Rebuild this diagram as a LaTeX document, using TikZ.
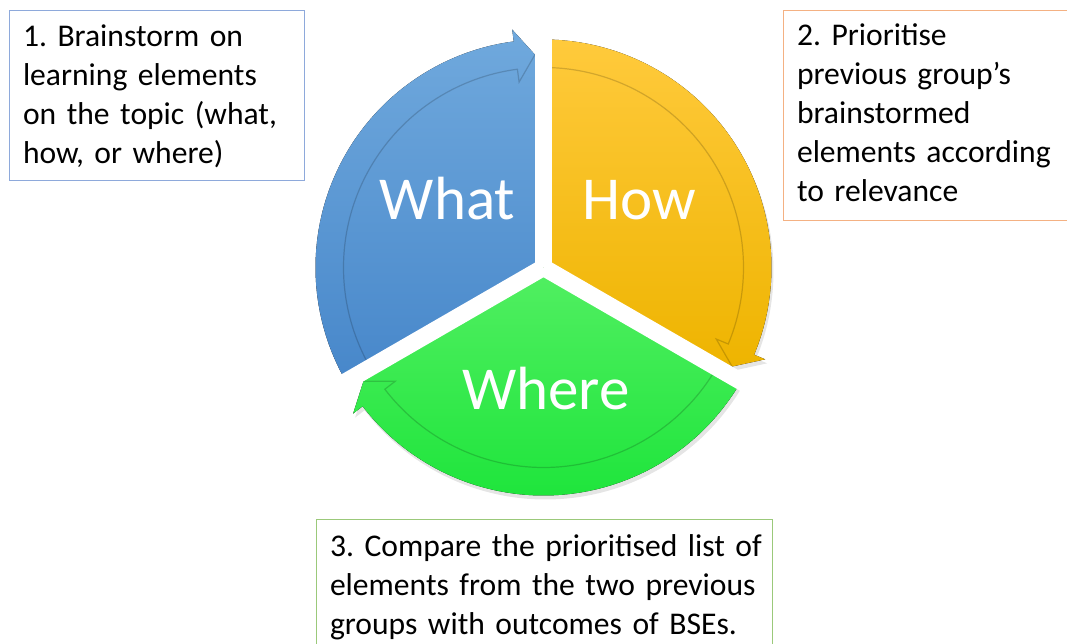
\documentclass[tikz,border=0pt]{standalone}
\usepackage{fontspec}
\setmainfont{Carlito}
\definecolor{whatTop}{HTML}{70A9DD}
\definecolor{whatBot}{HTML}{4787CA}
\definecolor{howTop}{HTML}{FFCA3C}
\definecolor{howBot}{HTML}{EEB400}
\definecolor{whereTop}{HTML}{52EF62}
\definecolor{whereBot}{HTML}{1FE53C}
\definecolor{noteblue}{HTML}{8EA9DB}
\definecolor{noteorange}{HTML}{F4B183}
\definecolor{notegreen}{HTML}{9BC97A}
\tikzset{
  notebox/.style={draw, line width=1pt, fill=white, align=left, anchor=north west, inner xsep=14pt, inner ysep=0pt, outer sep=0pt, font=\fontsize{31.6}{39}\selectfont\frenchspacing},
  seglabel/.style={text=white, anchor=base, font=\fontsize{61}{70}\selectfont},
  gapline/.style={white, line width=17pt},
  bandedge/.style={black, opacity=.17, line width=1.2pt},
  segshadow/.style={black, opacity=.1}
}

\begin{document}
\begin{tikzpicture}[x=1pt,y=1pt]
  \clip (0,0) rectangle (1067,644);
  \fill[white] (0,0) rectangle (1067,644);
  \begin{scope}[shift={(543.5,376.5)}]
    % soft shadow under the cycle
    \foreach \s/\e in {210/90,90/-30,330/210}
      \fill[segshadow, shift={(2,-4)}] (0,0) -- (\s:228) arc[start angle=\s, end angle=\e+7.5, radius=228] -- ({\e+7.5}:240) -- ({\e+2.3}:213) -- (\e:200) -- cycle;
    % the three segments with their arrows
    \foreach \s/\e/\col in {210/90/what,90/-30/how,330/210/where} {
      \fill[top color=\col Top, bottom color=\col Bot] (0,0) -- (\s:228) arc[start angle=\s, end angle=\e+7.5, radius=228] -- ({\e+7.5}:240) -- ({\e+2.3}:213) -- (\e:200) -- cycle;
      \draw[bandedge] (\s:200) arc[start angle=\s, end angle=\e+7.5, radius=200] -- ({\e+7.5}:187) -- ({\e+2.3}:213);
    }
    % white gaps
    \foreach \a in {90,210,330}
      \draw[gapline] (0,0) -- (\a:252);
  \end{scope}

  \node[seglabel] (what) at (447.5,424) {What};
  \node[seglabel] (how) at (639,424) {How};
  \node[seglabel] (where) at (546,234) {Where};

  \node[notebox, draw=noteblue, text width=267pt, text height=36pt, text depth=134pt] (brainstorm) at (9,633)
    {1. Brainstorm on\\learning elements\\on the topic (what,\\how, or where)};
  \node[notebox, draw=noteorange, text width=300pt, text height=35pt, text depth=175pt] (prioritise) at (783,633)
    {2. Prioritise\\previous group’s\\brainstormed\\elements according\\to relevance};
  \node[notebox, draw=notegreen, text width=428pt, text height=37pt, text depth=150pt] (compare) at (316,124)
    {\mbox{3. Compare the prioritised list of}\\\mbox{elements from the two previous}\\\mbox{groups with outcomes of BSEs.}};
\end{tikzpicture}
\end{document}
